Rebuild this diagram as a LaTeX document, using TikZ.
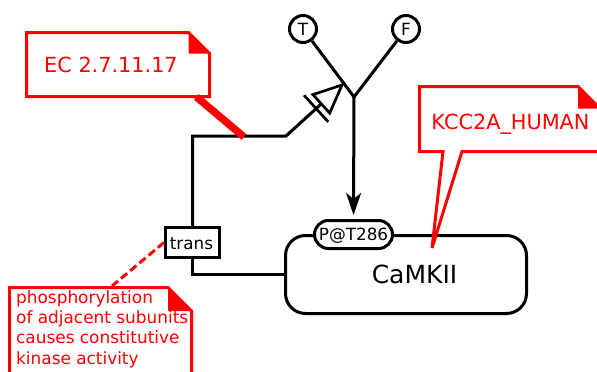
\documentclass[tikz,border=0pt]{standalone}
\usepackage{fontspec}
\setmainfont{DejaVu Sans}
\usetikzlibrary{arrows.meta,calc}
\definecolor{cred}{RGB}{255,0,0}
\begin{document}
\begin{tikzpicture}[x=1pt,y=-1pt,
  blk/.style={line width=3pt,draw=black},
  rline/.style={line width=3pt,draw=cred},
  circ/.style={circle,draw=black,line width=3pt,fill=white,minimum size=27pt,inner sep=0pt},
  pill/.style={rectangle,rounded corners=14pt,draw=black,line width=3pt,fill=white,minimum width=78pt,minimum height=28pt,inner sep=0pt},
  cbox/.style={rectangle,rounded corners=20pt,draw=black,line width=3pt,fill=white,minimum width=241pt,minimum height=78pt,inner sep=0pt},
  tbox/.style={rectangle,draw=black,line width=3pt,fill=white,minimum width=54pt,minimum height=30pt,inner sep=0pt},
  smallf/.style={font=\fontsize{16.8}{20}\selectfont},
  bigf/.style={font=\fontsize{20.8}{25}\selectfont,text=cred},
]
\useasboundingbox (0,0) rectangle (597,372);

% nodes
\node[circ] (T) at (303,29) {};
\node[circ] (F) at (406,29) {};
\node[smallf,anchor=base,inner sep=0pt] (Tt) at (303,35) {T};
\node[smallf,anchor=base,inner sep=0pt] (Ft) at (406,35) {F};
\coordinate (jn) at (354,97);

\node[cbox] (camk) at (406,274.5) {};
\node[font=\fontsize{25}{30}\selectfont,anchor=base,inner sep=0pt] (camkt) at (414.5,283) {CaMKII};
\node[pill] (ps) at (353.5,234.5) {};
\node[smallf,anchor=base,inner sep=0pt] (pst) at (353.5,240.6) {P@T286};

\node[tbox] (tr) at (192.5,242.5) {};
\node[smallf,anchor=base,inner sep=0pt] (trt) at (191.5,249) {trans};

% connectors
\draw[blk] (T) -- (jn) -- (F);
\draw[blk,-{Stealth[length=22pt,width=15pt,inset=6pt]}] (jn) -- ($(ps.north)+(0,-4)$);

\coordinate (c2) at (286,136);
\coordinate (tip) at (342,85);
\coordinate (B) at ($(tip)!28pt!(c2)$);
\coordinate (Bar) at ($(tip)!35pt!(c2)$);
\draw[blk] (tr.north) |- (c2) -- (B);
\draw[line width=2.7pt,line join=miter,fill=white] (tip) -- ($(B)!12.5pt!90:(tip)$) -- ($(B)!12.5pt!-90:(tip)$) -- cycle;
\draw[line width=2.7pt] ($(Bar)!18pt!90:(tip)$) -- ($(Bar)!18pt!-90:(tip)$);
\draw[blk] (tr.south) |- (camk.west);

% callout EC
\draw[rline,fill=white] (26.5,32.5) -- (188.5,32.5) -- (209.5,53.5) -- (209.5,96.5) -- (26.5,96.5) -- cycle;
\fill[cred] (188.5,32.5) -- (188.5,53.5) -- (209.5,53.5) -- cycle;
\node[bigf,anchor=base,inner sep=0pt] (ec) at (111,72) {EC 2.7.11.17};
\coordinate (ecA) at (196.5,97);
\coordinate (ecB) at (244,137);
\draw[cred,line width=7.5pt] (ecA) -- (ecB);

% callout KCC2A
\draw[rline,fill=white] (443,151.5) -- (419.5,151.5) -- (419.5,86.5) -- (578,86.5) -- (600,108.5) -- (600,151.5) -- (462,151.5) -- (432,248) -- cycle;
\fill[cred] (578,86.5) -- (578,108.5) -- (600,108.5) -- cycle;
\node[bigf,anchor=base,inner sep=0pt] (kc) at (510.5,129) {KCC2A\_HUMAN};

% callout phosphorylation
\coordinate (phA) at (112,286);
\draw[cred,line width=3pt,dash pattern=on 8pt off 4pt] (tr.west) -- (phA);
\draw[rline,fill=white] (9.5,380) -- (9.5,287.5) -- (168,287.5) -- (191.5,311) -- (191.5,380);
\fill[cred] (168,287.5) -- (168,311) -- (191.5,311) -- cycle;
\node[font=\fontsize{16.9}{20.3}\selectfont,text=cred,align=left,anchor=base west,inner sep=0pt] (ph) at (16,364) {phosphorylation\\of adjacent subunits\\causes constitutive\\kinase activity};
\end{tikzpicture}
\end{document}
